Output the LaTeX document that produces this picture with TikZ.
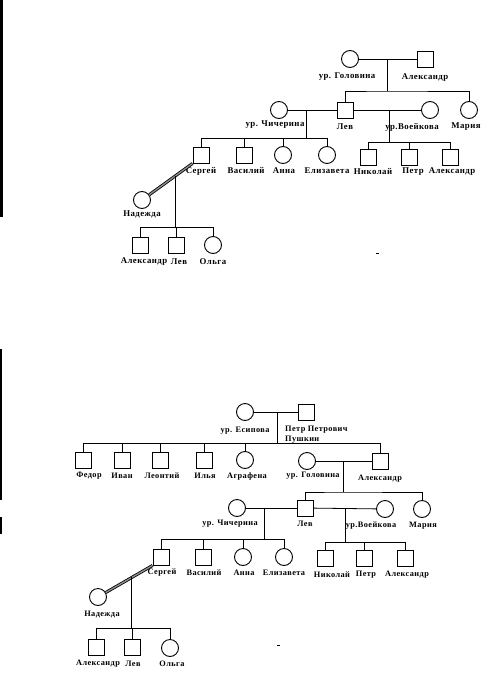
\documentclass[tikz,border=0pt]{standalone}
\usepackage{fontspec}
\setmainfont{Liberation Serif}[LetterSpace=5]
\usetikzlibrary{calc}

\begin{document}
\begin{tikzpicture}[x=1pt,y=-1pt,
    man/.style={draw, rectangle, minimum size=16pt, inner sep=0pt, line width=0.9pt},
    woman/.style={draw, circle, minimum size=17pt, inner sep=0pt, line width=0.9pt},
    nm/.style={font=\fontsize{8.8}{10}\selectfont\bfseries, inner sep=0pt},
    nmb/.style={nm, font=\fontsize{8.3}{10}\selectfont\bfseries},
    tie/.style={line width=0.8pt},
    wed/.style={double=black!45, double distance=1.4pt, line width=0.8pt}]

    \useasboundingbox (0,0) rectangle (490,674);

    % Края скана
    \fill (0,0) rectangle (3,217);
    \fill (0,349) rectangle (1.5,500);
    \fill (0,517) rectangle (1.5,534);
    \fill (376,252.5) rectangle (379,254);
    \fill (277,644.5) rectangle (280,646);

    % ===== Верхнее древо =====
    \foreach \n/\x/\y in {
        tAlex/425/59, tLev/345/110,
        tSergei/201/155, tVasil/244/155,
        tNikol/368/157, tPetr/409/157, tAlexB/450/157,
        tAlexC/140/245, tLevB/176/245
    }{
        \node[man] (\n) at (\x,\y) {};
    }
    \foreach \n/\x/\y in {
        tGolov/350/59, tChich/279/110, tVoeik/430/110, tMaria/469/110,
        tAnna/283/155, tEliz/327/155,
        tNadezh/142/200, tOlga/213/245
    }{
        \node[woman] (\n) at (\x,\y) {};
    }

    % Подписи
    \foreach \n/\x/\y/\t in {
        tGolov/347/77/ур. Головина, tAlex/425/78/Александр,
        tChich/275/125/ур. Чичерина, tLev/345/127/Лев,
        tVoeik/412/127/ур.Воейкова, tMaria/466/127/Мария,
        tSergei/201/171/Сергей, tVasil/246/171/Василий,
        tAnna/284/171/Анна, tEliz/327/171/Елизавета,
        tNikol/373/172/Николай, tPetr/413/172/Петр, tAlexB/452/172/Александр,
        tNadezh/142/214/Надежда,
        tAlexC/144/262/Александр, tLevB/179/262/Лев, tOlga/213/262/Ольга
    }{
        \node[nm] (\n-l) at (\x,\y) {\t};
    }

    % Браки и дети
    \draw[tie] (tGolov) -- (tAlex);
    \coordinate (tM1) at (387,59);
    \coordinate (tB1) at (387,91);
    \draw[tie] (tM1) -- (tB1);
    \draw[tie] (tLev.north) |- (tB1) -| (tMaria.north);

    \draw[tie] (tChich) -- (tLev);
    \coordinate (tM2) at (306,110);
    \coordinate (tB2) at (306,138);
    \draw[tie] (tM2) -- (tB2);
    \draw[tie] (tSergei.north |- tB2) -- (tEliz.north |- tB2);
    \foreach \c in {tSergei,tVasil,tAnna,tEliz}
        \draw[tie] (\c.north) -- (\c.north |- tB2);

    \draw[tie] (tLev) -- (tVoeik);
    \coordinate (tM3) at (389,110);
    \coordinate (tB3) at (389,142);
    \draw[tie] (tM3) -- (tB3);
    \draw[tie] (tNikol.north |- tB3) -- (tAlexB.north |- tB3);
    \foreach \c in {tNikol,tPetr,tAlexB}
        \draw[tie] (\c.north) -- (\c.north |- tB3);

    \draw[wed] (tNadezh) -- (tSergei.south west);
    \coordinate (tM4) at ($(tSergei.south west)!0.33!(tNadezh)$);
    \coordinate (tB4) at (176,227);
    \draw[tie] (tM4) -- (tM4 |- tB4);
    \draw[tie] (tAlexC.north |- tB4) -- (tOlga.north |- tB4);
    \foreach \c in {tAlexC,tLevB,tOlga}
        \draw[tie] (\c.north) -- (\c.north |- tB4);

    % ===== Нижнее древо =====
    \foreach \n/\x/\y in {
        bPetrP/306/412,
        bFedor/83/460, bIvan/122/460, bLeont/160/460, bIlya/204/460,
        bAlex/380/461, bLev/305/508,
        bSergei/161/557, bVasil/203/557,
        bNikol/325/558, bPetr/364/558, bAlexB/405/558,
        bAlexC/96/647, bLevB/132/647
    }{
        \node[man] (\n) at (\x,\y) {};
    }
    \foreach \n/\x/\y in {
        bEsip/245/412, bAgraf/245/460, bGolov/307/461,
        bChich/237/508, bVoeik/385/509, bMaria/422/509,
        bAnna/243/557, bEliz/284/557,
        bNadezh/98/597, bOlga/170/648
    }{
        \node[woman] (\n) at (\x,\y) {};
    }

    % Подписи
    \foreach \n/\x/\y/\t in {
        bEsip/245/431/ур. Есипова,
        bFedor/89/476/Федор, bIvan/122/476/Иван, bLeont/162/476/Леонтий,
        bIlya/205/476/Илья, bAgraf/247/476/Аграфена,
        bGolov/313/476/ур. Головина, bAlex/380/479/Александр,
        bChich/230/524/ур. Чичерина, bLev/305/524/Лев,
        bVoeik/371/526/ур.Воейкова, bMaria/423/526/Мария,
        bSergei/162/573/Сергей, bVasil/204/573/Василий,
        bAnna/244/573/Анна, bEliz/284/573/Елизавета,
        bNikol/332/575/Николай, bPetr/366/575/Петр, bAlexB/407/575/Александр,
        bNadezh/102/614/Надежда,
        bAlexC/98/664/Александр, bLevB/133/664/Лев, bOlga/172/664/Ольга
    }{
        \node[nmb] (\n-l) at (\x,\y) {\t};
    }
    \node[nmb, anchor=north west, align=left] (bPetrP-l) at (285,426)
        {Петр Петрович\\Пушкин};

    % Браки и дети
    \draw[tie] (bEsip) -- (bPetrP);
    \coordinate (bM1) at (277,412);
    \coordinate (bB1) at (277,443);
    \draw[tie] (bM1) -- (bB1);
    \draw[tie] (bFedor.north |- bB1) -- (bAlex.north |- bB1);
    \foreach \c in {bFedor,bIvan,bLeont,bIlya,bAgraf,bAlex}
        \draw[tie] (\c.north) -- (\c.north |- bB1);

    \draw[tie] (bGolov) -- (bAlex);
    \coordinate (bM2) at (343,461);
    \coordinate (bB2) at (343,492);
    \draw[tie] (bM2) -- (bB2);
    \draw[tie] (bLev.north) |- (bB2) -| (bMaria.north);

    \draw[tie] (bChich) -- (bLev);
    \coordinate (bM3) at (264,508);
    \coordinate (bB3) at (264,539);
    \draw[tie] (bM3) -- (bB3);
    \draw[tie] (bSergei.north |- bB3) -- (bEliz.north |- bB3);
    \foreach \c in {bSergei,bVasil,bAnna,bEliz}
        \draw[tie] (\c.north) -- (\c.north |- bB3);

    \draw[tie] (bLev) -- (bVoeik);
    \coordinate (bM4) at (345,508.5);
    \coordinate (bB4) at (345,542);
    \draw[tie] (bM4) -- (bB4);
    \draw[tie] (bNikol.north |- bB4) -- (bAlexB.north |- bB4);
    \foreach \c in {bNikol,bPetr,bAlexB}
        \draw[tie] (\c.north) -- (\c.north |- bB4);

    \draw[wed] (bNadezh) -- (bSergei.south west);
    \coordinate (bM5) at ($(bSergei.south west)!0.38!(bNadezh)$);
    \coordinate (bB5) at (132,628);
    \draw[tie] (bM5) -- (bM5 |- bB5);
    \draw[tie] (bAlexC.north |- bB5) -- (bOlga.north |- bB5);
    \foreach \c in {bAlexC,bLevB,bOlga}
        \draw[tie] (\c.north) -- (\c.north |- bB5);

\end{tikzpicture}
\end{document}
